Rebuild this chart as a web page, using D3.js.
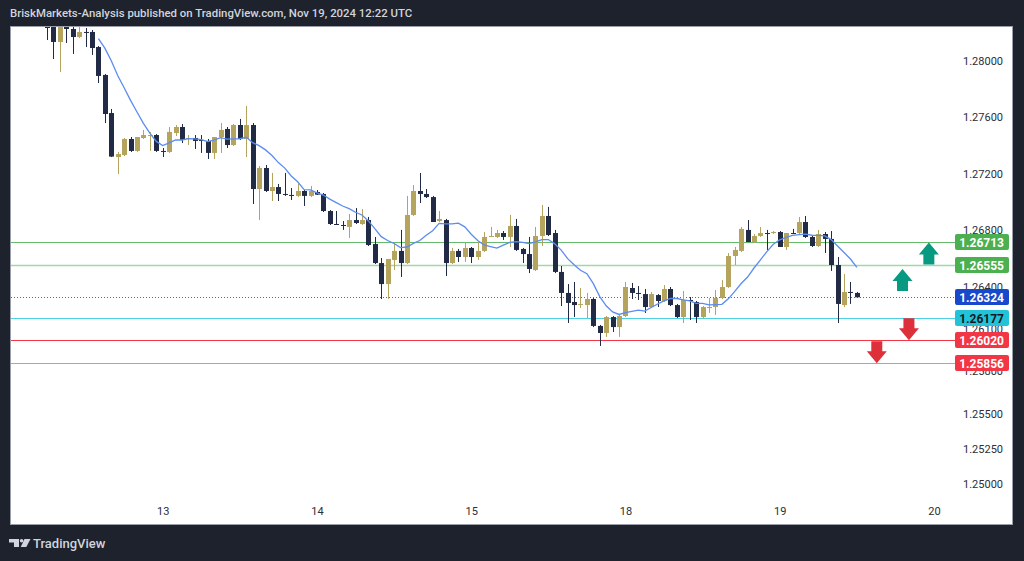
<!DOCTYPE html>
<html>
<head>
<meta charset="utf-8">
<script src="https://cdn.jsdelivr.net/npm/d3@7"></script>
<style>
body{margin:0;background:#1e222d;}
svg{display:block;font-family:Roboto,"DejaVu Sans",sans-serif;}
</style>
</head>
<body>
<svg id="chart"></svg>
<script>
// hourly GBP candles, index 0 = 12th 06:00
var opens = [1.28291,1.28262,1.28135,1.28241,1.28227,1.28170,1.28206,1.28206,1.28099,1.27901,
  1.27631,1.27319,1.27333,1.27447,1.27362,1.27454,1.27468,1.27475,1.27362,1.27355,
  1.27489,1.27532,1.27447,1.27454,1.27440,1.27433,1.27348,1.27461,1.27518,1.27404,
  1.27546,1.27447,1.27546,1.27092,1.27241,1.27078,1.27106,1.27057,1.27050,1.27043,
  1.27078,1.27043,1.27071,1.27057,1.26936,1.26844,1.26837,1.26823,1.26872,1.26844,
  1.26872,1.26702,1.26567,1.26418,1.26589,1.26653,1.26567,1.26908,1.27078,1.27057,
  1.27035,1.26865,1.26872,1.26567,1.26653,1.26610,1.26674,1.26610,1.26653,1.26756,
  1.26752,1.26780,1.26752,1.26830,1.26667,1.26631,1.26518,1.26759,1.26901,1.26780,
  1.26504,1.26355,1.26291,1.26273,1.26269,1.26312,1.26121,1.26071,1.26184,1.26113,
  1.26191,1.26390,1.26355,1.26347,1.26255,1.26340,1.26298,1.26383,1.26269,1.26184,
  1.26305,1.26291,1.26184,1.26252,1.26255,1.26319,1.26397,1.26617,1.26653,1.26802,
  1.26716,1.26759,1.26780,1.26784,1.26787,1.26681,1.26780,1.26780,1.26858,1.26752,
  1.26688,1.26773,1.26738,1.26553,1.26269,1.26362,1.26355];
var highs = [1.28319,1.28291,1.28305,1.28262,1.28241,1.28255,1.28234,1.28220,1.28106,1.27908,
  1.27660,1.27355,1.27454,1.27461,1.27461,1.27511,1.27497,1.27482,1.27383,1.27532,
  1.27546,1.27553,1.27475,1.27475,1.27475,1.27447,1.27461,1.27560,1.27532,1.27553,
  1.27589,1.27681,1.27560,1.27255,1.27262,1.27206,1.27128,1.27206,1.27099,1.27128,
  1.27085,1.27114,1.27085,1.27064,1.26943,1.26936,1.26865,1.26915,1.26957,1.26950,
  1.26894,1.26752,1.26603,1.26596,1.26709,1.26802,1.27043,1.27121,1.27206,1.27092,
  1.27043,1.26936,1.26880,1.26674,1.26667,1.26716,1.26681,1.26716,1.26787,1.26823,
  1.26802,1.26794,1.26908,1.26880,1.26674,1.26752,1.26823,1.26979,1.26965,1.26802,
  1.26546,1.26418,1.26433,1.26390,1.26355,1.26319,1.26128,1.26191,1.26191,1.26199,
  1.26433,1.26426,1.26404,1.26383,1.26362,1.26347,1.26411,1.26397,1.26277,1.26369,
  1.26326,1.26298,1.26262,1.26319,1.26376,1.26447,1.26638,1.26681,1.26823,1.26872,
  1.26773,1.26823,1.26802,1.26794,1.26794,1.26780,1.26809,1.26894,1.26901,1.26759,
  1.26802,1.26787,1.26794,1.26610,1.26489,1.26433,1.26362];
var lows = [1.28149,1.28014,1.27922,1.28128,1.28050,1.28163,1.28099,1.28043,1.27844,1.27560,
  1.27319,1.27199,1.27326,1.27355,1.27355,1.27447,1.27362,1.27355,1.27319,1.27348,
  1.27468,1.27418,1.27404,1.27376,1.27348,1.27305,1.27305,1.27348,1.27383,1.27397,
  1.27440,1.27319,1.26986,1.26872,1.27071,1.27007,1.27007,1.27043,1.27014,1.27035,
  1.26972,1.27035,1.27050,1.26929,1.26837,1.26837,1.26802,1.26745,1.26844,1.26837,
  1.26688,1.26560,1.26312,1.26312,1.26518,1.26468,1.26560,1.26901,1.26993,1.27028,
  1.26858,1.26858,1.26475,1.26560,1.26575,1.26575,1.26567,1.26589,1.26645,1.26752,
  1.26745,1.26731,1.26681,1.26653,1.26567,1.26496,1.26511,1.26688,1.26759,1.26496,
  1.26262,1.26142,1.26184,1.26248,1.26177,1.26113,1.25979,1.26043,1.26078,1.26043,
  1.26184,1.26312,1.26305,1.26213,1.26248,1.26255,1.26291,1.26262,1.26177,1.26142,
  1.26163,1.26142,1.26177,1.26213,1.26199,1.26312,1.26390,1.26553,1.26645,1.26716,
  1.26709,1.26752,1.26660,1.26773,1.26681,1.26660,1.26773,1.26773,1.26745,1.26681,
  1.26681,1.26638,1.26511,1.26142,1.26255,1.26277,1.26326];
var closes = [1.28234,1.28135,1.28277,1.28227,1.28170,1.28206,1.28199,1.28092,1.27894,1.27624,
  1.27322,1.27340,1.27447,1.27362,1.27461,1.27475,1.27475,1.27362,1.27355,1.27497,
  1.27532,1.27440,1.27454,1.27433,1.27433,1.27348,1.27461,1.27511,1.27404,1.27546,
  1.27447,1.27546,1.27092,1.27241,1.27078,1.27106,1.27057,1.27050,1.27043,1.27078,
  1.27043,1.27078,1.27052,1.26936,1.26844,1.26839,1.26830,1.26872,1.26851,1.26872,
  1.26695,1.26567,1.26418,1.26596,1.26653,1.26567,1.26908,1.27078,1.27057,1.27035,
  1.26858,1.26880,1.26567,1.26653,1.26610,1.26674,1.26610,1.26653,1.26752,1.26759,
  1.26780,1.26752,1.26830,1.26660,1.26631,1.26525,1.26759,1.26901,1.26766,1.26504,
  1.26355,1.26284,1.26269,1.26277,1.26312,1.26121,1.26071,1.26184,1.26113,1.26191,
  1.26397,1.26355,1.26351,1.26255,1.26347,1.26298,1.26383,1.26269,1.26184,1.26305,
  1.26301,1.26184,1.26255,1.26255,1.26319,1.26397,1.26617,1.26660,1.26809,1.26716,
  1.26759,1.26780,1.26776,1.26787,1.26681,1.26780,1.26776,1.26858,1.26752,1.26688,
  1.26773,1.26738,1.26553,1.26277,1.26362,1.26358,1.26324];

var dayLabels = ['13', '14', '15', '18', '19', '20'];
var dayIndex = [18, 42, 66, 90, 114, 138];
var priceTicks = [1.28, 1.276, 1.272, 1.268, 1.264, 1.261, 1.258, 1.255, 1.2525, 1.25];

var levels = [1.26713, 1.26555, 1.26324, 1.26177, 1.26020, 1.25856];
var levelLine = ['#66bb6a', '#a5d6a7', '#3f66e0', '#4dd0e1', '#f23645', '#f7858c'];
var levelBox = ['#4caf50', '#4caf50', '#1848cc', '#22c3d9', '#f23645', '#f23645'];
var levelText = ['#fff', '#fff', '#fff', '#131722', '#fff', '#fff'];

var arrowIdx = [137.2, 133.1, 134.1, 129.1];
var arrowPrice = [1.26713, 1.26525, 1.26020, 1.25856];
var arrowDir = ['up', 'up', 'down', 'down'];

var maPeriod = 9;
var W = 1024, H = 561;

var svg = d3.select('#chart').attr('width', W).attr('height', H);
svg.append('rect').attr('width', W).attr('height', H).attr('fill', '#1e222d');
svg.append('rect').attr('x', 10.5).attr('y', 26.5).attr('width', 1002).attr('height', 498)
    .attr('fill', '#fff').attr('stroke', '#9a9ea8');

var x = d3.scaleLinear().domain([0, 138]).range([47, 934]);
var y = d3.scaleLinear().domain([1.25, 1.28]).range([484, 61]);

svg.append('clipPath').attr('id', 'plot')
    .append('rect').attr('x', 11).attr('y', 27).attr('width', 944).attr('height', 473);

// header + footer
svg.append('text').attr('x', 10).attr('y', 17).attr('fill', '#d1d4dc')
    .attr('font-size', 11.4).attr('font-weight', 500)
    .text('BriskMarkets-Analysis published on TradingView.com, Nov 19, 2024 12:22 UTC');
var logo = svg.append('g').attr('fill', '#d1d4dc');
logo.append('path').attr('d', 'M9,539h10v8h-5v-4.5h-5z');
logo.append('circle').attr('cx', 21.6).attr('cy', 540.8).attr('r', 1.8);
logo.append('path').attr('d', 'M24.5,539h6l-4.2,8h-5.6z');
logo.append('text').attr('x', 33).attr('y', 548).attr('font-size', 13).attr('font-weight', 500)
    .text('TradingView');

// axes
var yAxis = d3.axisLeft(y).tickValues(priceTicks).tickSize(0).tickPadding(3).tickFormat(d3.format('.5f'));
var ya = svg.append('g').attr('transform', 'translate(1006,0)').call(yAxis);
ya.select('.domain').remove();
ya.selectAll('text').attr('fill', '#2a2e39').attr('font-size', 11).attr('font-family', 'Roboto, sans-serif');

var xAxis = d3.axisBottom(x).tickValues(dayIndex).tickSize(0).tickPadding(0)
    .tickFormat(function(d, i) { return dayLabels[i]; });
var xa = svg.append('g').attr('transform', 'translate(0,507)').call(xAxis);
xa.select('.domain').remove();
xa.selectAll('text').attr('fill', '#2a2e39').attr('font-size', 11).attr('font-family', 'Roboto, sans-serif');

var plot = svg.append('g').attr('clip-path', 'url(#plot)');

// level lines
levels.forEach(function(p, k) {
    plot.append('line')
        .attr('x1', 11).attr('x2', 955)
        .attr('y1', Math.round(y(p)) + 0.5).attr('y2', Math.round(y(p)) + 0.5)
        .attr('stroke', levelLine[k]).attr('stroke-width', k == 1 ? 1.6 : 1)
        .attr('stroke-dasharray', k == 2 ? '1,2' : null);
});

// candles
var candles = d3.range(opens.length).map(function(i) {
    return { i: i, o: opens[i], h: highs[i], l: lows[i], c: closes[i] };
});
var bull = '#b5a45d', bear = '#222b45';
var node = plot.selectAll('.candle').data(candles).enter().append('g').attr('class', 'candle');
node.append('line')
    .attr('x1', function(d) { return Math.round(x(d.i)) + 0.5; })
    .attr('x2', function(d) { return Math.round(x(d.i)) + 0.5; })
    .attr('y1', function(d) { return y(d.h); })
    .attr('y2', function(d) { return y(d.l); })
    .attr('stroke', function(d) { return d.c >= d.o ? bull : bear; })
    .attr('stroke-width', 1);
node.append('rect')
    .attr('x', function(d) { return Math.round(x(d.i)) - 2; })
    .attr('width', 5)
    .attr('y', function(d) { return y(Math.max(d.o, d.c)); })
    .attr('height', function(d) { return Math.max(1, Math.abs(y(d.o) - y(d.c))); })
    .attr('fill', function(d) { return d.c >= d.o ? bull : bear; });

// 9 period moving average
var ma = candles.slice(maPeriod - 1).map(function(d) {
    return { i: d.i, v: d3.mean(closes.slice(d.i - maPeriod + 1, d.i + 1)) };
});
plot.append('path').datum(ma)
    .attr('d', d3.line().x(function(d) { return x(d.i); }).y(function(d) { return y(d.v); }))
    .attr('fill', 'none').attr('stroke', '#5b8cf2').attr('stroke-width', 1.3);

// arrows
arrowIdx.forEach(function(ix, k) {
    var ax = x(ix), ay = y(arrowPrice[k]);
    var s = arrowDir[k] == 'up' ? 1 : -1;
    var d = 'M' + ax + ',' + ay +
        'L' + (ax + 10) + ',' + (ay + s * 12) +
        'L' + (ax + 5.5) + ',' + (ay + s * 12) +
        'L' + (ax + 5.5) + ',' + (ay + s * 22) +
        'L' + (ax - 5.5) + ',' + (ay + s * 22) +
        'L' + (ax - 5.5) + ',' + (ay + s * 12) +
        'L' + (ax - 10) + ',' + (ay + s * 12) + 'Z';
    svg.append('path').attr('d', d).attr('fill', s > 0 ? '#089981' : '#dd303b');
});

// price boxes on the axis
levels.forEach(function(p, k) {
    var cy = Math.round(y(p));
    svg.append('rect').attr('x', 955).attr('y', cy - 8).attr('width', 54).attr('height', 16)
        .attr('rx', 2).attr('fill', levelBox[k]);
    svg.append('text').attr('x', 1004).attr('y', cy + 4.5).attr('text-anchor', 'end')
        .attr('font-size', 12).attr('font-weight', 700).attr('fill', levelText[k])
        .text(d3.format('.5f')(p));
});
</script>
</body>
</html>
